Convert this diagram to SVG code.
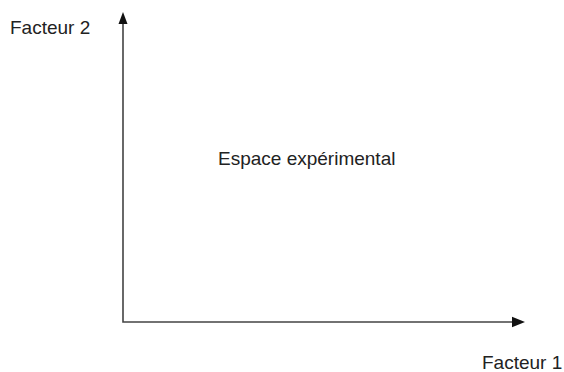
<svg xmlns="http://www.w3.org/2000/svg" width="564" height="372" viewBox="0 0 564 372">
<style>
.lbl{font-family:"Liberation Sans",Arial,sans-serif;font-size:19px;fill:#222}
.axis{stroke:#444;stroke-width:1.6;fill:none}
.head{fill:#111}
</style>
<rect width="564" height="372" fill="#fff"/>
<g id="connectors">
<polyline class="axis" points="123,22 123,322 514,322"/>
<polygon class="head" points="123,12 118.5,24 127.5,24"/>
<polygon class="head" points="525,322 512,316.8 512,327.2"/>
</g>
<g id="facteur2"><text class="lbl" x="10" y="34">Facteur 2</text></g>
<g id="espace"><text class="lbl" x="218" y="165">Espace expérimental</text></g>
<g id="facteur1"><text class="lbl" x="482" y="369">Facteur 1</text></g>
</svg>
